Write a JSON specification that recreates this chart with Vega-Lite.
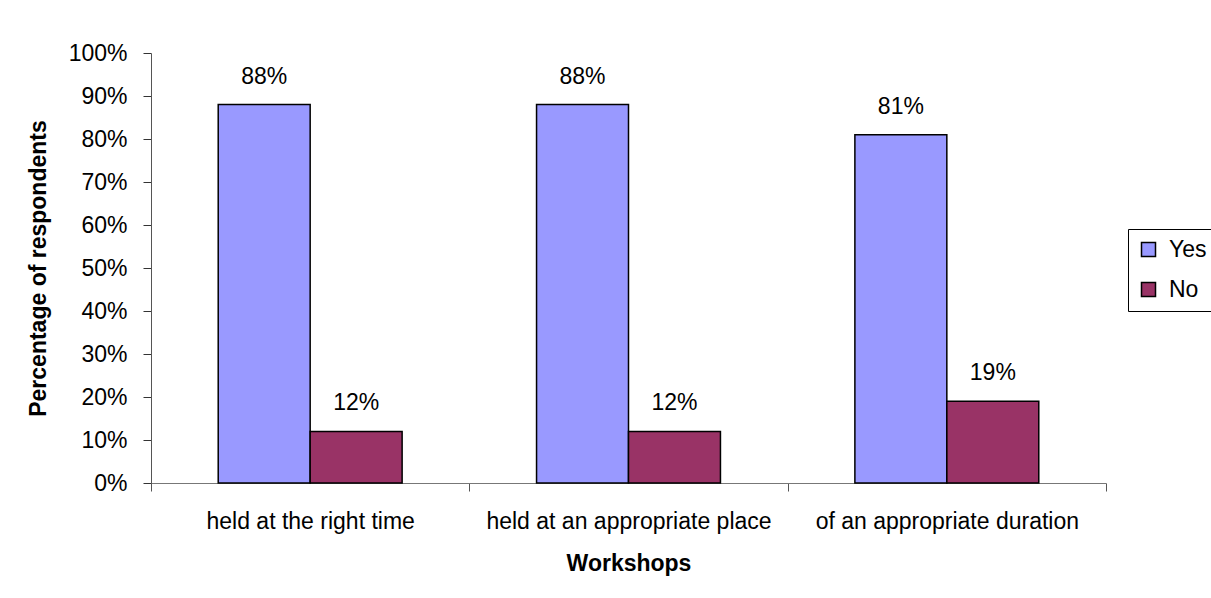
{
  "$schema": "https://vega.github.io/schema/vega-lite/v6.json",
  "width": 955,
  "height": 430,
  "autosize": {"type": "none"},
  "padding": {"left": 151, "top": 53, "right": 105, "bottom": 115},
  "background": "white",
  "config": {"font": "Liberation Sans", "view": {"stroke": null}},
  "data": {
    "values": [
      {"workshop": "held at the right time", "answer": "Yes", "pct": 0.88},
      {"workshop": "held at the right time", "answer": "No", "pct": 0.12},
      {"workshop": "held at an appropriate place", "answer": "Yes", "pct": 0.88},
      {"workshop": "held at an appropriate place", "answer": "No", "pct": 0.12},
      {"workshop": "of an appropriate duration", "answer": "Yes", "pct": 0.81},
      {"workshop": "of an appropriate duration", "answer": "No", "pct": 0.19}
    ]
  },
  "encoding": {
    "x": {
      "field": "workshop",
      "type": "nominal",
      "sort": ["held at the right time", "held at an appropriate place", "of an appropriate duration"],
      "scale": {"paddingInner": 0, "paddingOuter": 0},
      "axis": {
        "title": "Workshops",
        "titleFontSize": 23,
        "titleFontWeight": "bold",
        "titleColor": "#000",
        "titleY": 87,
        "titleBaseline": "alphabetic",
        "labelAngle": 0,
        "labelFontSize": 23,
        "labelLimit": 0,
        "labelColor": "#000",
        "labelBaseline": "alphabetic",
        "labelPadding": 37,
        "tickBand": "extent",
        "tickSize": 8,
        "tickColor": "#555",
        "domainColor": "#777",
        "grid": false
      }
    },
    "xOffset": {
      "field": "answer",
      "sort": ["Yes", "No"],
      "scale": {"paddingInner": 0, "paddingOuter": 0.731}
    },
    "y": {
      "field": "pct",
      "type": "quantitative",
      "scale": {"domain": [0, 1]},
      "axis": {
        "values": [0, 0.1, 0.2, 0.3, 0.4, 0.5, 0.6, 0.7, 0.8, 0.9, 1],
        "format": ".0%",
        "grid": false,
        "title": "Percentage of respondents",
        "titleFontSize": 23,
        "titleFontWeight": "bold",
        "titleColor": "#000",
        "titleAngle": 270,
        "titleX": -113,
        "titleY": 215,
        "titleAlign": "center",
        "titleBaseline": "middle",
        "labelFontSize": 23,
        "labelColor": "#000",
        "labelPadding": 16,
        "tickSize": 8,
        "tickColor": "#333",
        "domainColor": "#555"
      }
    }
  },
  "layer": [
    {
      "mark": {"type": "bar", "stroke": "#000", "strokeWidth": 1.5, "opacity": 1},
      "encoding": {
        "color": {
          "field": "answer",
          "type": "nominal",
          "sort": ["Yes", "No"],
          "scale": {"domain": ["Yes", "No"], "range": ["#9999FF", "#993366"]},
          "legend": {
            "orient": "none",
            "legendX": 977,
            "legendY": 176,
            "title": null,
            "strokeColor": "#000",
            "fillColor": "white",
            "padding": 9,
            "symbolType": "square",
            "symbolSize": 196,
            "symbolStrokeColor": "#000",
            "symbolStrokeWidth": 1.5,
            "symbolOpacity": 1,
            "labelFontSize": 23,
            "labelColor": "#000",
            "labelOffset": 9,
            "rowPadding": 16
          }
        }
      }
    },
    {
      "mark": {"type": "text", "dy": -21, "baseline": "alphabetic", "fontSize": 23, "color": "#000"},
      "encoding": {
        "text": {"field": "pct", "type": "quantitative", "format": ".0%"}
      }
    }
  ]
}
